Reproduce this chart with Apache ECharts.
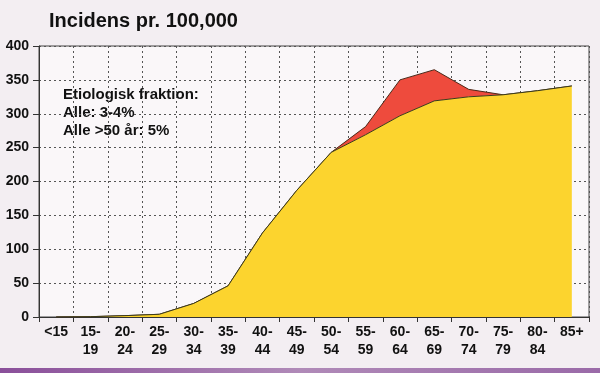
<!DOCTYPE html>
<html>
<head>
<meta charset="utf-8">
<script src="https://cdn.jsdelivr.net/npm/echarts@6/dist/echarts.min.js"></script>
<style>
html,body{margin:0;padding:0;background:#f3eef2;}
#c{width:600px;height:373px;}
</style>
</head>
<body>
<div id="c"></div>
<script>
const categories = ['<15','15-\n19','20-\n24','25-\n29','30-\n34','35-\n39','40-\n44','45-\n49','50-\n54','55-\n59','60-\n64','65-\n69','70-\n74','75-\n79','80-\n84','85+'];
const baseValues  = [0, 0.5, 2, 4, 20, 46, 124, 187, 243, 269, 297, 319, 325, 328, 334, 341];
const totalValues = [0, 0.5, 2, 4, 20, 46, 124, 187, 243, 281, 350, 365, 336, 328, 334, 341];
const yTicks = [0, 50, 100, 150, 200, 250, 300, 350, 400];
const titleText = 'Incidens pr. 100,000';
const noteLines = ['Etiologisk fraktion:', 'Alle: 3-4%', 'Alle >50 år: 5%'];

const excessValues = totalValues.map((v, i) => +(v - baseValues[i]).toFixed(2));
const font = '"Liberation Sans", Arial, sans-serif';

const chart = echarts.init(document.getElementById('c'));
chart.setOption({
  backgroundColor: '#f3eef2',
  animation: false,
  title: {
    text: titleText, left: 44, top: 6,
    textStyle: {fontFamily: font, fontWeight: 'bold', fontSize: 20, color: '#111'}
  },
  grid: {left: 39, right: 11, top: 46, bottom: 56, show: true, backgroundColor: '#faf7f9', borderColor: '#444', borderWidth: 1},
  xAxis: {
    type: 'category', data: categories, boundaryGap: true,
    axisLine: {lineStyle: {color: '#333', width: 1}},
    axisTick: {show: true, length: 5, lineStyle: {color: '#333'}},
    axisLabel: {fontFamily: font, fontWeight: 'bold', fontSize: 14, color: '#111', margin: 6, lineHeight: 18, interval: 0},
    splitLine: {show: true, lineStyle: {color: '#555', type: [2, 3], width: 1}}
  },
  yAxis: {
    type: 'value', min: 0, max: 400, interval: 50,
    axisLine: {show: true, lineStyle: {color: '#333', width: 1}},
    axisTick: {show: true, length: 6, lineStyle: {color: '#333'}},
    axisLabel: {fontFamily: font, fontWeight: 'bold', fontSize: 14, color: '#111', margin: 10,
      formatter: v => yTicks.includes(v) ? String(v) : ''},
    splitLine: {show: true, lineStyle: {color: '#555', type: [2, 3], width: 1}}
  },
  series: [
    {
      type: 'line', stack: 'a', data: baseValues, symbol: 'none',
      lineStyle: {color: '#3a3a1a', width: 1},
      areaStyle: {color: '#fcd42e', opacity: 1},
      z: 3
    },
    {
      type: 'line', stack: 'a', data: excessValues, symbol: 'none',
      lineStyle: {color: '#4a2a1a', width: 1},
      areaStyle: {color: '#ee4b3d', opacity: 1},
      z: 2
    }
  ],
  graphic: [
    {
      type: 'text', left: 63, top: 86,
      style: {text: noteLines.join('\n'), fontFamily: font, fontWeight: 'bold', fontSize: 15, lineHeight: 18, fill: '#111'}
    },
    {
      type: 'rect', left: 0, bottom: 0, shape: {width: 600, height: 5},
      style: {fill: new echarts.graphic.LinearGradient(0, 0, 1, 0, [
        {offset: 0, color: '#8a4f9a'}, {offset: 0.5, color: '#b08ab8'}, {offset: 1, color: '#9a6aa8'}])}
    }
  ]
});
</script>
</body>
</html>
